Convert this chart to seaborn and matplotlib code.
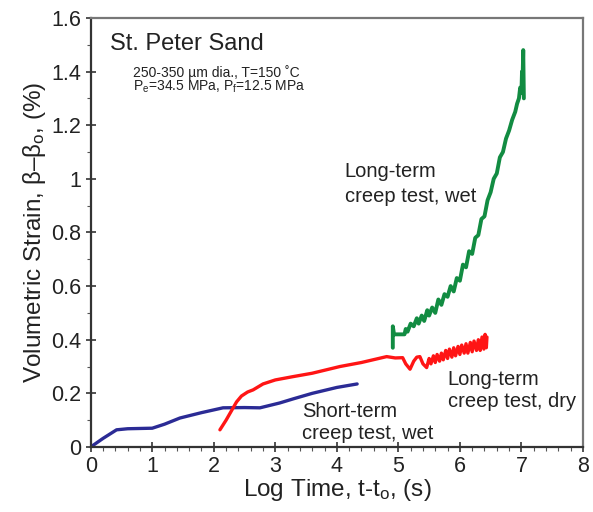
import matplotlib
matplotlib.use("Agg")
import matplotlib.pyplot as plt
import seaborn as sns
from matplotlib.ticker import MultipleLocator

# ---- data ----
short_wet_x = [0, 0.2, 0.42, 0.6, 1.0, 1.2, 1.45, 1.8, 2.15, 2.5, 2.75, 3.07, 3.3, 3.6, 4.0, 4.33]
short_wet_y = [0, 0.032, 0.064, 0.068, 0.07, 0.085, 0.108, 0.128, 0.146, 0.147, 0.146, 0.164, 0.18, 0.2, 0.222, 0.235]

long_dry_x = [2.10, 2.2, 2.3, 2.37, 2.45, 2.55, 2.64, 2.8, 3.0, 3.28, 3.6, 4.05, 4.4, 4.81, 4.95, 5.07,
              5.12, 5.19, 5.25, 5.3, 5.35, 5.40, 5.46, 5.5, 5.53, 5.57, 5.6, 5.63, 5.67, 5.7, 5.73, 5.77,
              5.8, 5.83, 5.87, 5.9, 5.93, 5.97, 6.0, 6.03, 6.07, 6.1, 6.13, 6.17, 6.2, 6.23, 6.27, 6.3,
              6.33, 6.36, 6.39, 6.41, 6.43, 6.44]
long_dry_y = [0.064, 0.10, 0.14, 0.168, 0.19, 0.205, 0.213, 0.235, 0.25, 0.262, 0.275, 0.30, 0.315, 0.337, 0.332, 0.333,
              0.31, 0.29, 0.32, 0.335, 0.337, 0.31, 0.296, 0.33, 0.31, 0.34, 0.315, 0.345, 0.32, 0.35, 0.325, 0.36,
              0.33, 0.365, 0.335, 0.37, 0.34, 0.375, 0.345, 0.38, 0.35, 0.385, 0.35, 0.39, 0.355, 0.395, 0.36, 0.40,
              0.36, 0.41, 0.365, 0.42, 0.37, 0.41]

long_wet_x = [4.91, 4.91, 4.93, 5.0, 5.1, 5.12, 5.15, 5.2, 5.25, 5.3, 5.33, 5.38, 5.42, 5.47, 5.5, 5.55,
              5.6, 5.65, 5.7, 5.75, 5.8, 5.85, 5.9, 5.95, 6.0, 6.05, 6.1, 6.15, 6.2, 6.25, 6.3, 6.35,
              6.4, 6.45, 6.5, 6.55, 6.6, 6.65, 6.7, 6.75, 6.8, 6.85, 6.9, 6.93, 6.96, 6.98, 7.0, 7.01,
              7.02, 7.03, 7.04]
long_wet_y = [0.37, 0.45, 0.42, 0.42, 0.42, 0.44, 0.43, 0.46, 0.45, 0.48, 0.46, 0.49, 0.47, 0.51, 0.49, 0.52,
              0.50, 0.55, 0.53, 0.57, 0.56, 0.60, 0.58, 0.63, 0.62, 0.68, 0.67, 0.73, 0.72, 0.78, 0.79, 0.85,
              0.86, 0.92, 0.95, 1.00, 1.02, 1.08, 1.10, 1.15, 1.18, 1.22, 1.25, 1.28, 1.30, 1.34, 1.32, 1.40,
              1.38, 1.48, 1.30]

x_ticks = [0, 1, 2, 3, 4, 5, 6, 7, 8]
y_ticks = [0, 0.2, 0.4, 0.6, 0.8, 1.0, 1.2, 1.4, 1.6]
y_tick_labels = ["0", "0.2", "0.4", "0.6", "0.8", "1", "1.2", "1.4", "1.6"]

# ---- style ----
sns.set_style("white")
plt.rcParams["font.family"] = ["Liberation Sans", "DejaVu Sans"]
plt.rcParams["mathtext.fontset"] = "custom"
plt.rcParams["mathtext.rm"] = "Liberation Sans"
plt.rcParams["mathtext.it"] = "Liberation Sans:italic"

fig = plt.figure(figsize=(5.93, 5.12), dpi=100)
ax = fig.add_axes([0.153, 0.127, 0.830, 0.838])

sns.lineplot(x=short_wet_x, y=short_wet_y, sort=False, estimator=None, color="#2b2b95", linewidth=2.4, ax=ax)
sns.lineplot(x=long_dry_x, y=long_dry_y, sort=False, estimator=None, color="#ff1515", linewidth=2.4, ax=ax)
sns.lineplot(x=long_wet_x, y=long_wet_y, sort=False, estimator=None, color="#128c42", linewidth=2.8, ax=ax)

ax.set_xlim(0, 8)
ax.set_ylim(0, 1.6)
ax.set_xticks(x_ticks)
ax.set_xticklabels([str(t) for t in x_ticks])
ax.set_yticks(y_ticks)
ax.set_yticklabels(y_tick_labels)
ax.xaxis.set_minor_locator(MultipleLocator(0.2))
ax.yaxis.set_minor_locator(MultipleLocator(0.1))
ax.tick_params(axis="both", which="major", direction="inout", length=7, width=1.2, colors="#333333",
               labelsize=15.5, labelcolor="#222222", bottom=True, left=True)
ax.tick_params(axis="both", which="minor", direction="out", length=3, width=0.8, colors="#555555",
               bottom=True, left=True)
ax.tick_params(axis="x", pad=3)

for side in ["left", "bottom"]:
    ax.spines[side].set_color("#333333")
    ax.spines[side].set_linewidth(1.6)
for side in ["top", "right"]:
    ax.spines[side].set_color("#777777")
    ax.spines[side].set_linewidth(1.6)

ax.set_xlabel(r"Log Time, t-t$_{\mathrm{o}}$, (s)", fontsize=17.5, color="#222222", labelpad=0)
ax.set_ylabel(r"Volumetric Strain, β–β$_{\mathrm{o}}$, (%)", fontsize=17.5, color="#222222", labelpad=2)

tc = "#222222"
ax.text(0.31, 1.503, "St. Peter Sand", fontsize=17, color=tc, va="center", ha="left")
ax.text(0.68, 1.398, "250-350 µm dia., T=150 ˚C", fontsize=10, color=tc, va="center", ha="left")
ax.text(0.68, 1.342, r"P$_{\mathrm{e}}$=34.5 MPa, P$_{\mathrm{f}}$=12.5 MPa", fontsize=10, color=tc,
        va="center", ha="left")

ax.text(4.13, 1.028, "Long-term", fontsize=14.5, color=tc, va="center", ha="left")
ax.text(4.13, 0.935, "creep test, wet", fontsize=14.5, color=tc, va="center", ha="left")
ax.text(5.80, 0.251, "Long-term", fontsize=14.5, color=tc, va="center", ha="left")
ax.text(5.80, 0.168, "creep test, dry", fontsize=14.5, color=tc, va="center", ha="left")
ax.text(3.43, 0.131, "Short-term", fontsize=14.5, color=tc, va="center", ha="left")
ax.text(3.43, 0.052, "creep test, wet", fontsize=14.5, color=tc, va="center", ha="left")

fig.savefig("out.png", dpi=100)
